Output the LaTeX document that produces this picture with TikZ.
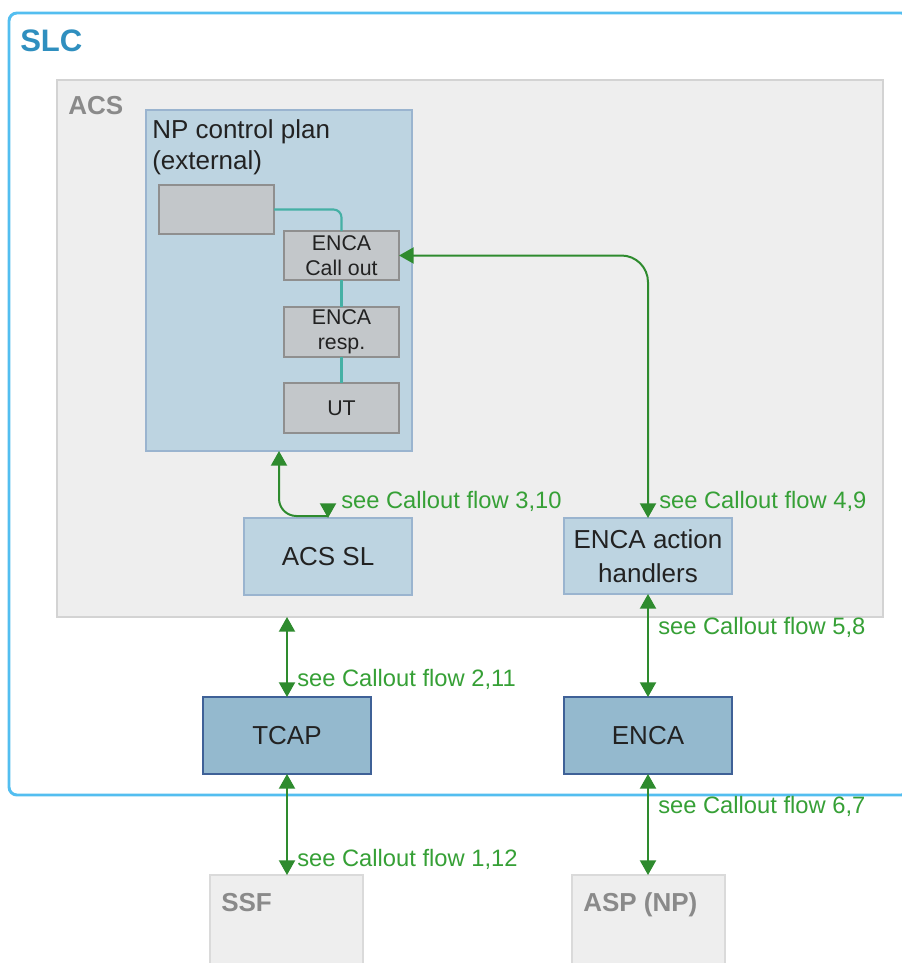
\documentclass[tikz,border=0pt]{standalone}
\usepackage{fontspec}
\setmainfont{Liberation Sans}
\usetikzlibrary{arrows.meta}
\definecolor{slcblue}{HTML}{53BEF0}
\definecolor{slctext}{HTML}{2F8FBF}
\definecolor{acsfill}{HTML}{EEEEEE}
\definecolor{acsdraw}{HTML}{D3D3D3}
\definecolor{npfill}{HTML}{BDD4E1}
\definecolor{npdraw}{HTML}{9AB4CF}
\definecolor{grayfill}{HTML}{C3C7CA}
\definecolor{graydraw}{HTML}{8F8F8F}
\definecolor{tealline}{HTML}{45B0A5}
\definecolor{flowgreen}{HTML}{2E8B2E}
\definecolor{lblgreen}{HTML}{36A036}
\definecolor{darkfill}{HTML}{94B9CE}
\definecolor{darkdraw}{HTML}{3F6197}
\definecolor{paletext}{HTML}{8A8A8A}
\definecolor{boxtext}{HTML}{222222}
\definecolor{extdraw}{HTML}{DADADA}
\begin{document}
\begin{tikzpicture}[x=0.75pt,y=-0.75pt,
  wh/.style 2 args={minimum width=#1*0.75pt, minimum height=#2*0.75pt, anchor=north west, inner sep=0pt, outer sep=0pt},
  container/.style={fill=acsfill, draw=acsdraw, line width=1.2pt},
  npbox/.style={fill=npfill, draw=npdraw, line width=1.2pt},
  smallbox/.style={fill=grayfill, draw=graydraw, line width=1.1pt, text=boxtext, align=center, font=\fontsize{16pt}{18.75pt}\selectfont},
  lightbox/.style={fill=npfill, draw=npdraw, line width=1.2pt, text=boxtext, align=center, font=\fontsize{19.5pt}{25.5pt}\selectfont},
  darkbox/.style={fill=darkfill, draw=darkdraw, line width=1.2pt, text=boxtext, align=center, font=\fontsize{19.5pt}{25.5pt}\selectfont},
  extbox/.style={fill=acsfill, draw=extdraw, line width=1.2pt},
  boldlbl/.style={anchor=base west, inner sep=0pt, text=paletext, font=\bfseries\fontsize{19.5pt}{23pt}\selectfont},
  lbl/.style={anchor=base west, inner sep=0pt, text=lblgreen, font=\fontsize{17.8pt}{21pt}\selectfont},
  flow/.style={draw=flowgreen, line width=1.5pt},
  tealconn/.style={draw=tealline, line width=1.6pt}
]
\useasboundingbox (0,0) rectangle (902,963);
\fill[white] (0,0) rectangle (902,963);

% containers
\node[wh={900}{782}, draw=slcblue, line width=2.2pt, rounded corners=6pt] (slc) at (9,13) {};
\node[anchor=base west, inner sep=0pt, text=slctext, font=\bfseries\fontsize{23.3pt}{28pt}\selectfont] (slclbl) at (20,52) {SLC};
\node[wh={826}{537}, container] (acs) at (57,80) {};
\node[boldlbl] (acslbl) at (68,115) {ACS};
\node[wh={266}{341}, npbox] (np) at (146,110) {};
\node[anchor=base west, inner sep=0pt, align=left, text=boxtext, font=\fontsize{19.5pt}{23.25pt}\selectfont] (nplbl) at (152,170) {NP control plan\\(external)};

% inner boxes
\node[wh={115}{49}, smallbox] (blank) at (159,185) {};
\node[wh={115}{49}, smallbox] (callout) at (284,231) {ENCA\\Call out};
\node[wh={115}{50}, smallbox] (resp) at (284,307) {ENCA\\resp.};
\node[wh={115}{50}, smallbox] (ut) at (284,383) {UT};

\node[wh={168}{77}, lightbox] (acssl) at (244,518) {ACS SL};
\node[wh={168}{76}, lightbox] (ah) at (564,518) {ENCA action\\handlers};
\node[wh={168}{77}, darkbox] (tcap) at (203,697) {TCAP};
\node[wh={168}{77}, darkbox] (enca) at (564,697) {ENCA};
\node[wh={153}{110}, extbox] (ssf) at (210,875) {};
\node[boldlbl] (ssflbl) at (221,911) {SSF};
\node[wh={153}{110}, extbox] (asp) at (572,875) {};
\node[boldlbl] (asplbl) at (583,911) {ASP (NP)};

% teal connectors
\draw[tealconn, rounded corners=6pt] (blank.east) -| (callout.north);
\draw[tealconn] (callout.south) -- (resp.north);
\draw[tealconn] (resp.south) -- (ut.north);

% green flows
\draw[flow, {Triangle[width=12pt,length=11pt]}-{Triangle[width=12pt,length=11pt]}, rounded corners=20pt] (callout.east) -| (ah.north);
\coordinate (k) at (328,516);
\draw[flow, {Triangle[width=12pt,length=11pt]}-, rounded corners=13pt] (np.south) |- (k);
\draw[flow, -{Triangle[width=12pt,length=11pt]}] (k) -- (k |- acssl.north);
\draw[flow, {Triangle[width=12pt,length=11pt]}-{Triangle[width=12pt,length=11pt]}] (tcap.north |- acs.south) -- (tcap.north);
\draw[flow, {Triangle[width=12pt,length=11pt]}-{Triangle[width=12pt,length=11pt]}] (ah.south) -- (enca.north);
\draw[flow, {Triangle[width=12pt,length=11pt]}-{Triangle[width=12pt,length=11pt]}] (tcap.south) -- (tcap.south |- ssf.north);
\draw[flow, {Triangle[width=12pt,length=11pt]}-{Triangle[width=12pt,length=11pt]}] (enca.south) -- (enca.south |- asp.north);

% labels
\node[lbl] (l310) at (341,508) {see Callout flow 3,10};
\node[lbl] (l49) at (659,508) {see Callout flow 4,9};
\node[lbl] (l211) at (297,686) {see Callout flow 2,11};
\node[lbl] (l58) at (658,634) {see Callout flow 5,8};
\node[lbl] (l67) at (658,813) {see Callout flow 6,7};
\node[lbl] (l112) at (297,866) {see Callout flow 1,12};
\end{tikzpicture}
\end{document}
